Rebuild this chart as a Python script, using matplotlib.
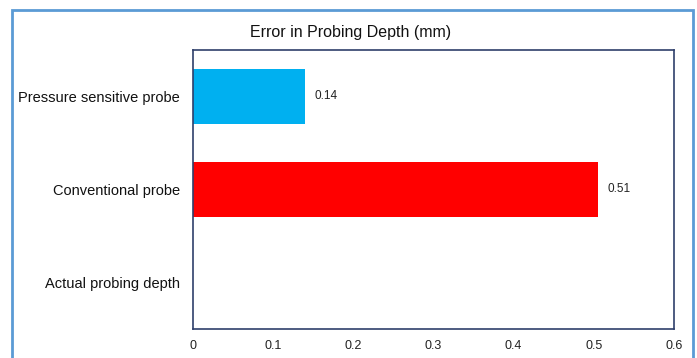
import matplotlib.pyplot as plt
from matplotlib.patches import Rectangle

# data (bottom to top)
categories = ['Actual probing depth', 'Conventional probe', 'Pressure sensitive probe']
errors = [0.0, 0.505, 0.14]
bar_labels = ['', '0.51', '0.14']
colors = ['#00B0F0', '#FF0000', '#00B0F0']
xticks = [0, 0.1, 0.2, 0.3, 0.4, 0.5, 0.6]

plt.rcParams['font.family'] = ['Liberation Sans Narrow', 'Liberation Sans', 'DejaVu Sans']

fig = plt.figure(figsize=(6.97, 3.58), dpi=100)
W, H = 697, 358
ax = fig.add_axes([193 / W, 1 - 329 / H, (674 - 193) / W, (329 - 50) / H])

y = range(len(categories))
ax.barh(y, errors, height=0.6, color=colors)
for yi, v, lab in zip(y, errors, bar_labels):
    if lab:
        ax.text(v + 0.012, yi, lab, va='center', ha='left', fontsize=8.5, color='#222222')

ax.set_xlim(0, 0.6)
ax.set_ylim(-0.5, 2.5)
ax.set_yticks(list(y))
ax.set_yticklabels(categories, fontsize=10.5, color='#111111')
ax.set_xticks(xticks)
ax.set_xticklabels([f'{t:g}' for t in xticks], fontsize=9, color='#222222')
ax.tick_params(axis='x', length=0, pad=8)
ax.tick_params(axis='y', length=0, pad=9.5)
for s in ax.spines.values():
    s.set_color('#2F3F6B')
    s.set_linewidth(1.2)

fig.text(351 / W, 1 - 33 / H, 'Error in Probing Depth (mm)', ha='center', va='center',
         fontsize=11.5, color='#111111')

# outer frame
fig.patches.append(Rectangle((12 / W, -0.02), (693 - 12) / W, 1 - 9.5 / H + 0.02,
                             transform=fig.transFigure, fill=False,
                             edgecolor='#5B9BD5', linewidth=2))

fig.savefig('out.png', dpi=100)
